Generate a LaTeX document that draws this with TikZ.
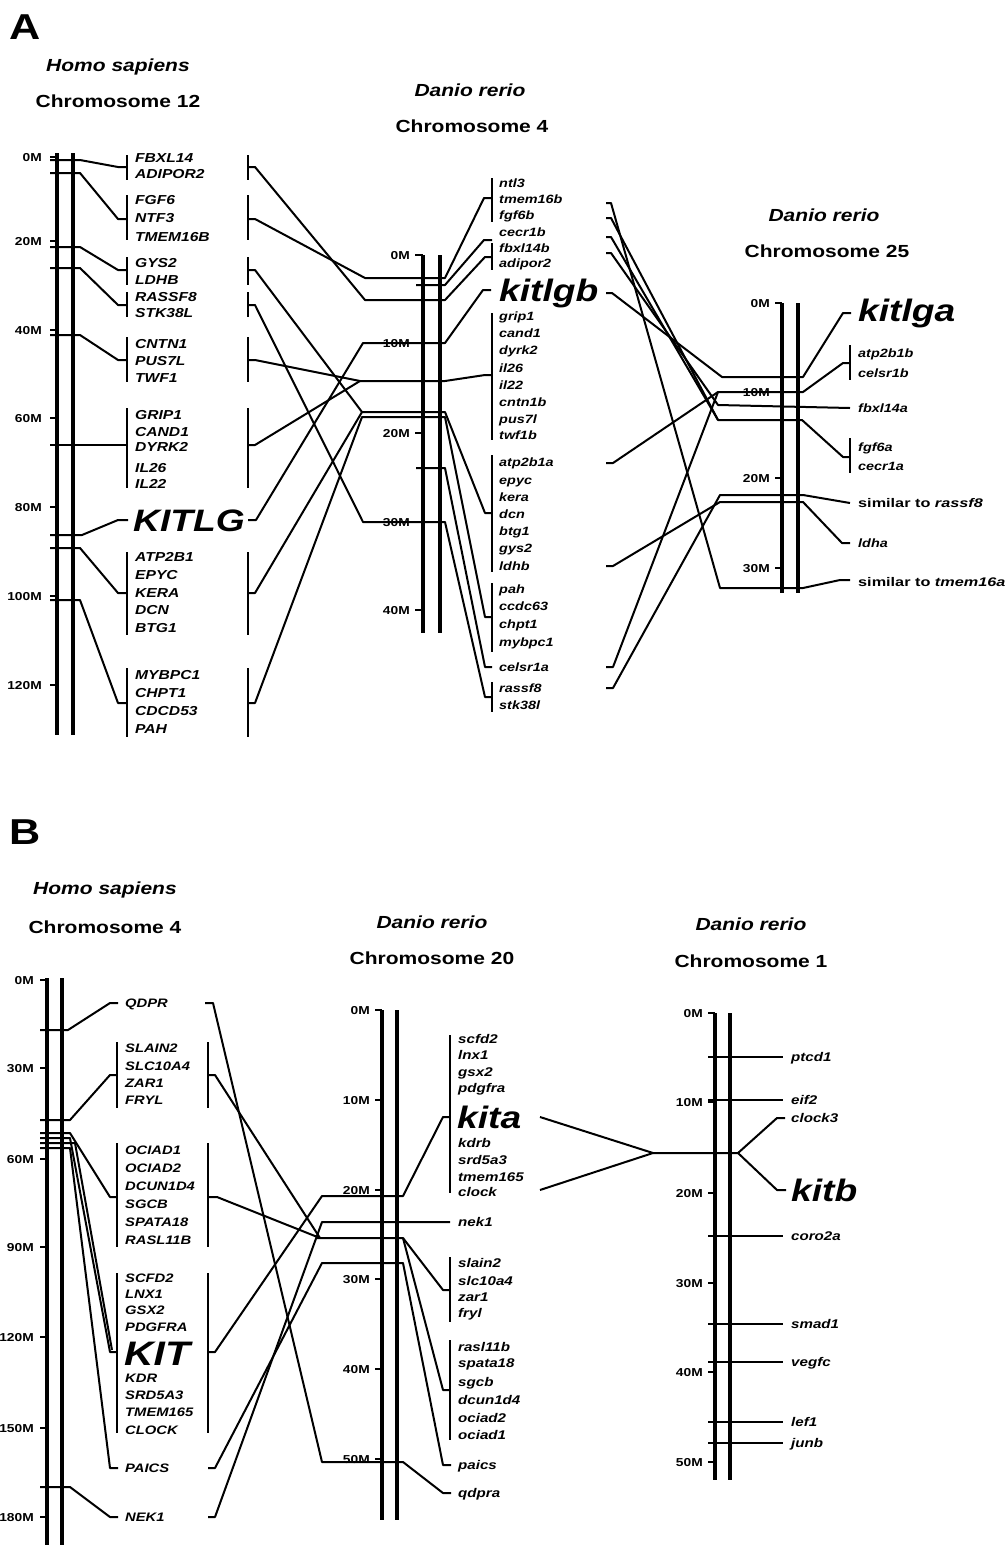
\documentclass[tikz,border=0pt]{standalone}
\usepackage{fontspec}
\setmainfont{Liberation Sans}
\newfontfamily\fS[FakeStretch=1.2]{Liberation Sans}
\newfontfamily\fW[FakeStretch=1.3]{Liberation Sans}
\tikzset{
 chr/.style={line width=3.2pt},
 con/.style={line width=2pt, line join=round},
 brk/.style={line width=2.6pt},
 tck/.style={line width=2pt},
 hg/.style={anchor=west, inner sep=0pt, text height=9.3pt, text depth=0pt, font=\fS\fontsize{13}{15}\selectfont\bfseries\itshape},
 hgb/.style={anchor=west, inner sep=0pt, text height=8.8pt, text depth=0pt, font=\fS\fontsize{12.3}{15}\selectfont\bfseries\itshape},
 zg/.style={anchor=west, inner sep=0pt, text height=8.6pt, text depth=0pt, font=\fS\fontsize{12}{14}\selectfont\bfseries\itshape},
 zgb/.style={anchor=west, inner sep=0pt, text height=9pt, text depth=0pt, font=\fS\fontsize{12.6}{14}\selectfont\bfseries\itshape},
 zgw/.style={anchor=west, inner sep=0pt, text height=8.6pt, text depth=0pt, font=\fW\fontsize{12.5}{14}\selectfont\bfseries\itshape},
 tl/.style={anchor=east, inner sep=0pt, text height=8.4pt, text depth=0pt, font=\fS\fontsize{11.5}{13}\selectfont\bfseries},
 big/.style={anchor=west, inner sep=0pt, text height=22pt, text depth=0pt, font=\fS\fontsize{31}{34}\selectfont\bfseries\itshape},
 ttl/.style={inner sep=0pt, font=\fS\fontsize{17.5}{20}\selectfont\bfseries},
 sp/.style={inner sep=0pt, font=\fS\fontsize{17.5}{20}\selectfont\bfseries\itshape},
 pl/.style={inner sep=0pt, font=\fS\fontsize{36}{40}\selectfont\bfseries}
}
\begin{document}
\begin{tikzpicture}[x=1pt,y=-1pt]
\useasboundingbox (0,0) rectangle (1007,1545);
\fill[white] (0,0) rectangle (1007,1545);

% ================= PANEL A =================
\node[pl] (pA) at (25,27) {A};
\node[sp] (tA1) at (118,67) {Homo sapiens};
\node[ttl] (tA2) at (118,101) {Chromosome 12};
\node[sp] (tA3) at (470,90) {Danio rerio};
\node[ttl] (tA4) at (472,126) {Chromosome 4};
\node[sp] (tA5) at (824,215) {Danio rerio};
\node[ttl] (tA6) at (827,251) {Chromosome 25};

% Human chr12
\draw[chr] (57,153) -- (57,735);
\draw[chr] (73,153) -- (73,735);
\foreach \y/\lab [count=\i] in {157/0M,241/20M,330/40M,418/60M,507/80M,596/100M,685/120M}
 {\draw[tck] (50,\y) -- (57,\y); \node[tl] (ka\i) at (42,\y) {\lab};}
\draw[con] (50,160) -- (80,160) -- (118,167) -- (127,167);
\draw[con] (50,173) -- (80,173) -- (118,219) -- (127,219);
\draw[con] (50,247) -- (80,247) -- (118,270) -- (127,270);
\draw[con] (50,268) -- (80,268) -- (118,305) -- (127,305);
\draw[con] (50,335) -- (80,335) -- (118,360) -- (127,360);
\draw[con] (50,445) -- (127,445);
\draw[con] (50,535) -- (82,535) -- (118,520) -- (128,520);
\draw[con] (50,548) -- (80,548) -- (118,593) -- (127,593);
\draw[con] (50,600) -- (80,600) -- (118,703) -- (127,703);
\foreach \a/\b in {155/180,195/240,257/285,292/317,337/382,408/488,552/635,668/737}
 {\draw[brk] (127,\a) -- (127,\b); \draw[brk] (248,\a) -- (248,\b);}
\foreach \n/\y/\t in {1/158/FBXL14,2/174/ADIPOR2,3/200/FGF6,4/218/NTF3,5/237/TMEM16B,6/263/GYS2,7/280/LDHB,8/297/RASSF8,9/313/STK38L,10/344/CNTN1,11/361/PUS7L,12/378/TWF1,13/415/GRIP1,14/432/CAND1,15/447/DYRK2,16/468/IL26,17/484/IL22,18/557/ATP2B1,19/575/EPYC,20/593/KERA,21/610/DCN,22/628/BTG1,23/675/MYBPC1,24/693/CHPT1,25/711/CDCD53,26/729/PAH}
 {\node[hg] (ha\n) at (135,\y) {\t};}
\node[big] (KITLG) at (133,520) {KITLG};

% Danio chr4
\draw[chr] (423,255) -- (423,633);
\draw[chr] (440,255) -- (440,633);
\foreach \y/\lab [count=\i] in {255/0M,343/10M,433/20M,522/30M,610/40M}
 {\draw[tck] (415,\y) -- (423,\y); \node[tl] (kb\i) at (410,\y) {\lab};}
\foreach \a/\b in {178/222,243/270,313/440,455/572,583/652,682/712}
 {\draw[brk] (492,\a) -- (492,\b);}
\foreach \n/\y/\t in {1/183/ntl3,2/199/tmem16b,3/215/fgf6b,4/232/cecr1b,5/248/fbxl14b,6/263/adipor2,7/316/grip1,8/333/cand1,9/350/dyrk2,10/368/il26,11/385/il22,12/402/cntn1b,13/419/pus7l,14/435/twf1b,15/462/atp2b1a,16/480/epyc,17/497/kera,18/514/dcn,19/531/btg1,20/548/gys2,21/566/ldhb,22/589/pah,23/606/ccdc63,24/624/chpt1,25/642/mybpc1,26/667/celsr1a,27/688/rassf8,28/705/stk38l}
 {\node[zg] (za\n) at (499,\y) {\t};}
\node[big] (kitlgb) at (499,290) {kitlgb};

% Human chr12 -> Danio chr4
\draw[con] (248,167) -- (255,167) -- (365,300) -- (445,300) -- (485,257) -- (492,257);
\draw[con] (248,219) -- (255,219) -- (365,278) -- (445,278) -- (484,198) -- (492,198);
\draw[con] (248,270) -- (255,270) -- (362,412) -- (445,412) -- (485,513) -- (492,513);
\draw[con] (248,305) -- (255,305) -- (363,522) -- (445,522) -- (485,697) -- (492,697);
\draw[con] (248,360) -- (255,360) -- (360,381) -- (445,381) -- (485,375) -- (492,375);
\draw[con] (248,445) -- (255,445) -- (360,381);
\draw[con] (248,520) -- (256,520) -- (363,343) -- (445,343) -- (483,290) -- (491,290);
\draw[con] (248,593) -- (255,593) -- (362,412);
\draw[con] (248,703) -- (255,703) -- (362,417) -- (445,417) -- (485,617) -- (492,617);
\draw[con] (416,285) -- (445,285) -- (484,240) -- (492,240);
\draw[con] (416,468) -- (445,468) -- (485,667) -- (492,667);

% Danio chr25
\draw[chr] (782,303) -- (782,593);
\draw[chr] (798,303) -- (798,593);
\foreach \y/\lab [count=\i] in {303/0M,392/10M,478/20M,568/30M}
 {\draw[tck] (775,\y) -- (782,\y); \node[tl] (kc\i) at (770,\y) {\lab};}
\draw[brk] (850,345) -- (850,380);
\draw[brk] (850,438) -- (850,473);
\node[big] (kitlga) at (858,310) {kitlga};
\node[zg] (zc1) at (858,353) {atp2b1b};
\node[zg] (zc2) at (858,373) {celsr1b};
\node[zg] (zc3) at (858,408) {fbxl14a};
\node[zg] (zc4) at (858,447) {fgf6a};
\node[zg] (zc5) at (858,466) {cecr1a};
\node[zgw] (zc6) at (858,503) {{\upshape similar to }rassf8};
\node[zg] (zc7) at (858,543) {ldha};
\node[zgw] (zc8) at (858,582) {{\upshape similar to }tmem16a};

% Danio chr4 -> chr25
\draw[con] (606,203) -- (611,203) -- (720,588) -- (803,588) -- (840,580) -- (850,580);
\draw[con] (606,218) -- (611,218) -- (718,420) -- (802,420) -- (843,457) -- (850,457);
\draw[con] (606,237) -- (611,237) -- (718,420);
\draw[con] (606,253) -- (611,253) -- (718,405) -- (850,408);
\draw[con] (606,293) -- (612,293) -- (722,377) -- (803,377) -- (843,313) -- (851,313);
\draw[con] (606,463) -- (613,463) -- (718,392) -- (803,392) -- (843,363) -- (850,363);
\draw[con] (606,566) -- (613,566) -- (720,502) -- (803,502) -- (842,543) -- (850,543);
\draw[con] (606,667) -- (613,667) -- (718,392);
\draw[con] (606,688) -- (613,688) -- (720,495) -- (803,495) -- (850,503);

% ================= PANEL B =================
\node[pl] (pB) at (25,832) {B};
\node[sp] (tB1) at (105,890) {Homo sapiens};
\node[ttl] (tB2) at (105,927) {Chromosome 4};
\node[sp] (tB3) at (432,922) {Danio rerio};
\node[ttl] (tB4) at (432,958) {Chromosome 20};
\node[sp] (tB5) at (751,924) {Danio rerio};
\node[ttl] (tB6) at (751,961) {Chromosome 1};

% Human chr4
\draw[chr] (47,978) -- (47,1545);
\draw[chr] (62,978) -- (62,1545);
\foreach \y/\lab [count=\i] in {980/0M,1068/30M,1159/60M,1247/90M,1337/120M,1428/150M,1517/180M}
 {\draw[tck] (40,\y) -- (47,\y); \node[tl] (kd\i) at (34,\y) {\lab};}
\draw[con] (40,1030) -- (68,1030) -- (110,1003) -- (118,1003);
\draw[con] (40,1120) -- (70,1120) -- (110,1075) -- (117,1075);
\draw[con] (40,1133) -- (70,1133) -- (110,1197) -- (117,1197);
\draw[con] (40,1138) -- (70,1138) -- (110,1352) -- (117,1352);
\draw[con] (40,1143) -- (75,1143) -- (112,1350);
\draw[con] (40,1148) -- (70,1148) -- (110,1468) -- (118,1468);
\draw[con] (40,1487) -- (70,1487) -- (110,1517) -- (118,1517);
\foreach \a/\b in {1042/1108,1143/1247,1273/1433}
 {\draw[brk] (117,\a) -- (117,\b); \draw[brk] (208,\a) -- (208,\b);}
\foreach \n/\y/\t in {1/1003/QDPR,2/1048/SLAIN2,3/1066/SLC10A4,4/1083/ZAR1,5/1100/FRYL,6/1150/OCIAD1,7/1168/OCIAD2,8/1186/DCUN1D4,9/1204/SGCB,10/1222/SPATA18,11/1240/RASL11B,12/1278/SCFD2,13/1294/LNX1,14/1310/GSX2,15/1327/PDGFRA,16/1378/KDR,17/1395/SRD5A3,18/1412/TMEM165,19/1430/CLOCK,20/1468/PAICS,21/1517/NEK1}
 {\node[hgb] (hb\n) at (125,\y) {\t};}
\node[big, font=\fS\fontsize{34}{36}\selectfont\bfseries\itshape, text height=24pt] (KIT) at (124,1353) {KIT};

% Danio chr20
\draw[chr] (382,1010) -- (382,1520);
\draw[chr] (397,1010) -- (397,1520);
\foreach \y/\lab [count=\i] in {1010/0M,1100/10M,1190/20M,1279/30M,1369/40M,1459/50M}
 {\draw[tck] (375,\y) -- (382,\y); \node[tl] (ke\i) at (370,\y) {\lab};}
\foreach \a/\b in {1035/1193,1257/1322,1340/1440}
 {\draw[brk] (450,\a) -- (450,\b);}
\foreach \n/\y/\t in {1/1039/scfd2,2/1055/lnx1,3/1072/gsx2,4/1088/pdgfra,5/1143/kdrb,6/1160/srd5a3,7/1177/tmem165,8/1192/clock,9/1222/nek1,10/1263/slain2,11/1281/slc10a4,12/1297/zar1,13/1313/fryl,14/1347/rasl11b,15/1363/spata18,16/1382/sgcb,17/1400/dcun1d4,18/1418/ociad2,19/1435/ociad1,20/1465/paics,21/1493/qdpra}
 {\node[zgb] (zb\n) at (458,\y) {\t};}
\node[big] (kita) at (457,1117) {kita};

% Human chr4 -> chr20
\draw[con] (205,1003) -- (213,1003) -- (322,1462) -- (403,1462) -- (443,1493) -- (451,1493);
\draw[con] (208,1075) -- (215,1075) -- (320,1238);
\draw[con] (208,1197) -- (217,1197) -- (320,1238);
\draw[con] (317,1238) -- (403,1238) -- (443,1290) -- (450,1290);
\draw[con] (403,1238) -- (443,1390) -- (450,1390);
\draw[con] (208,1352) -- (215,1352) -- (322,1196) -- (403,1196) -- (443,1117) -- (450,1117);
\draw[con] (208,1468) -- (215,1468) -- (322,1263) -- (403,1263) -- (443,1465) -- (451,1465);
\draw[con] (208,1517) -- (215,1517) -- (322,1222) -- (450,1222);

% Danio chr1
\draw[chr] (715,1013) -- (715,1480);
\draw[chr] (730,1013) -- (730,1480);
\foreach \y/\lab [count=\i] in {1013/0M,1102/10M,1193/20M,1283/30M,1372/40M,1462/50M}
 {\draw[tck] (708,\y) -- (715,\y); \node[tl] (kf\i) at (703,\y) {\lab};}
\foreach \n/\y/\t in {1/1057/ptcd1,2/1100/eif2,3/1236/coro2a,4/1324/smad1,5/1362/vegfc,6/1422/lef1,7/1443/junb}
 {\draw[con] (708,\y) -- (783,\y); \node[zgb] (zf\n) at (791,\y) {\t};}
\node[zgb] (zf8) at (791,1118) {clock3};
\node[big] (kitb) at (791,1190) {kitb};

% Danio chr20 -> chr1
\draw[con] (540,1117) -- (653,1153);
\draw[con] (540,1190) -- (653,1153);
\draw[con] (653,1153) -- (738,1153) -- (777,1118) -- (785,1118);
\draw[con] (738,1153) -- (777,1190) -- (786,1190);
\end{tikzpicture}
\end{document}
